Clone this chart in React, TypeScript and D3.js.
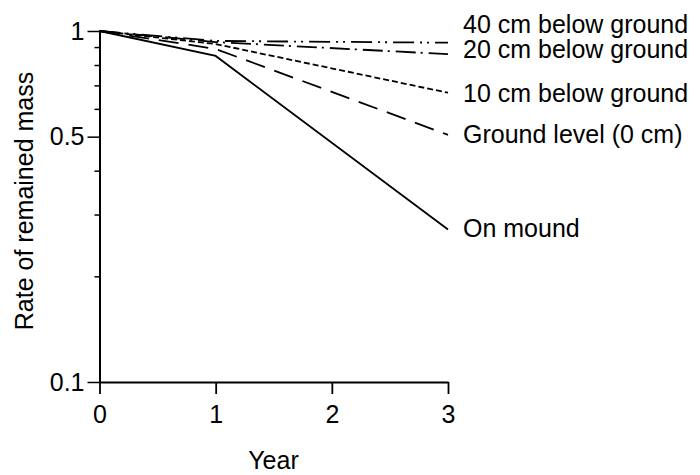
import React, { useEffect, useRef } from "react";
import * as d3 from "d3";

// datos (anio vs tasa de masa remanente)
const years = [0, 1, 3];
const onMound = [1, 0.849, 0.272];
const groundLevel = [1, 0.889, 0.506];
const below10 = [1, 0.918, 0.667];
const below20 = [1, 0.93, 0.859];
const below40 = [1, 0.937, 0.926];

const seriesNames = [
  "40 cm below ground",
  "20 cm below ground",
  "10 cm below ground",
  "Ground level (0 cm)",
  "On mound",
];
const seriesValues = [below40, below20, below10, groundLevel, onMound];
const dashes = ["21 6 2 5 2 6", "20 5 2 6", "6 3", "20 10", null];
const labelShift = [-10, 4, 9, 8, 8];

const xTicks = [0, 1, 2, 3];
const yTicks = [1, 0.5, 0.1];
const yMinor = [0.9, 0.8, 0.7, 0.6, 0.4, 0.3, 0.2];

export default function App() {
  const ref = useRef(null);

  useEffect(() => {
    const svg = d3.select(ref.current);
    svg.selectAll("*").remove();

    const x = d3.scaleLinear().domain([0, 3]).range([99.5, 448]);
    const y = d3.scaleLog().domain([0.1, 1]).range([382, 31]);
    const font = "'Liberation Sans', Arial, sans-serif";

    // eje y, marcas menores
    svg
      .append("g")
      .attr("transform", "translate(99.5,0)")
      .call(d3.axisLeft(y).tickValues(yMinor).tickSize(5).tickFormat(() => ""))
      .call((g) => g.select(".domain").remove())
      .selectAll("line")
      .attr("stroke-width", 1.5);

    // eje y principal
    const gy = svg
      .append("g")
      .attr("transform", "translate(99.5,0)")
      .call(
        d3
          .axisLeft(y)
          .tickValues(yTicks)
          .tickSize(12)
          .tickSizeOuter(0)
          .tickPadding(3)
          .tickFormat((d) => String(d))
      );
    gy.select(".domain").attr("stroke-width", 2);
    gy.selectAll("line").attr("stroke-width", 1.5);
    gy.selectAll("text").attr("font-size", 25).attr("font-family", font);

    // eje x
    const gx = svg
      .append("g")
      .attr("transform", "translate(0,382)")
      .call(
        d3
          .axisBottom(x)
          .tickValues(xTicks)
          .tickSize(12)
          .tickSizeOuter(0)
          .tickPadding(11)
          .tickFormat(d3.format("d"))
      );
    gx.select(".domain").attr("stroke-width", 2);
    gx.selectAll("line").attr("stroke-width", 1.8);
    gx.selectAll("text").attr("font-size", 25).attr("font-family", font);

    const line = d3
      .line()
      .x((d) => x(d[0]))
      .y((d) => y(d[1]));

    seriesValues.forEach((vals, i) => {
      const pts = years.map((yr, j) => [yr, vals[j]]);
      svg
        .append("path")
        .datum(pts)
        .attr("d", line)
        .attr("fill", "none")
        .attr("stroke", "#000")
        .attr("stroke-width", 1.8)
        .attr("stroke-dasharray", dashes[i]);

      svg
        .append("text")
        .attr("x", 463)
        .attr("y", y(vals[vals.length - 1]) + labelShift[i])
        .attr("font-size", 25)
        .attr("font-family", font)
        .text(seriesNames[i]);
    });

    // titulos de ejes
    svg
      .append("text")
      .attr("x", 273.5)
      .attr("y", 469)
      .attr("text-anchor", "middle")
      .attr("font-size", 25)
      .attr("font-family", font)
      .text("Year");

    svg
      .append("text")
      .attr("transform", "translate(33,201) rotate(-90)")
      .attr("text-anchor", "middle")
      .attr("font-size", 25)
      .attr("font-family", font)
      .text("Rate of remained mass");
  }, []);

  return (
    <svg
      ref={ref}
      width={700}
      height={475}
      style={{ position: "absolute", left: 0, top: 0, background: "#fff" }}
    ></svg>
  );
}
